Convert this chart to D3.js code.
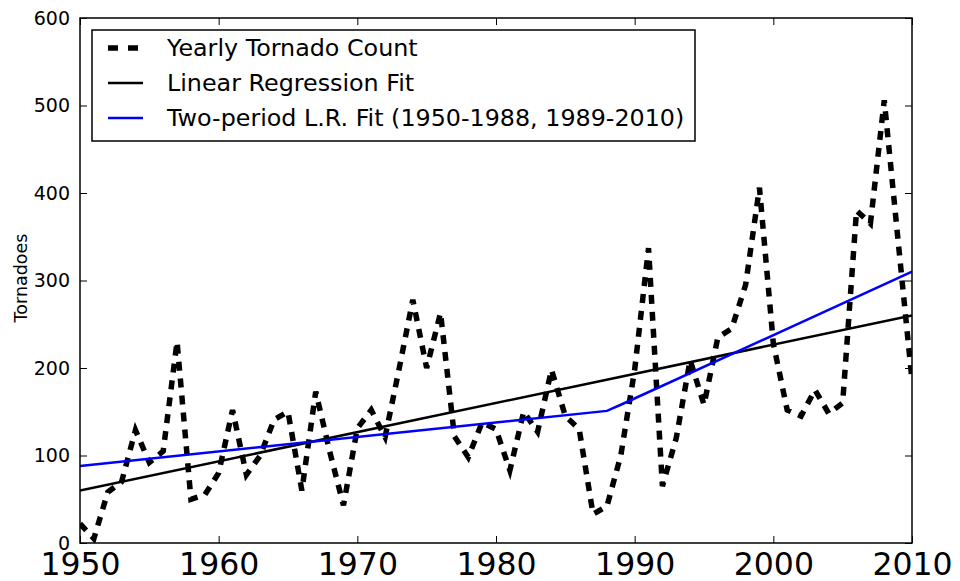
<!DOCTYPE html>
<html lang="en">

<head>
  <meta http-equiv="Content-Type" content="text/html; charset=utf-8">
  <title>Tornadoes</title>
  <style type="text/css">
    body { margin: 0; background: #fff; }
    text { font-family: "DejaVu Sans", sans-serif; fill: #000; }
    .frame { fill: none; stroke: #000; stroke-width: 1.5; }
  </style>
</head>

<body>

<script src="https://cdn.jsdelivr.net/npm/d3@7"></script>
<script>
  //----------------------------------------------------------------------------
  var years = [1950, 1951, 1952, 1953, 1954, 1955, 1956, 1957, 1958, 1959,
               1960, 1961, 1962, 1963, 1964, 1965, 1966, 1967, 1968, 1969,
               1970, 1971, 1972, 1973, 1974, 1975, 1976, 1977, 1978, 1979,
               1980, 1981, 1982, 1983, 1984, 1985, 1986, 1987, 1988, 1989,
               1990, 1991, 1992, 1993, 1994, 1995, 1996, 1997, 1998, 1999,
               2000, 2001, 2002, 2003, 2004, 2005, 2006, 2007, 2008, 2009,
               2010];

  var counts = [ 22,   5,  58,  70, 129,  92, 105, 230,  50,  55,
                 80, 152,  78, 100, 141, 150,  60, 173, 105,  43,
                131, 152, 121, 198, 278, 200, 263, 122,  98, 138,
                130,  83, 150, 127, 198, 145, 130,  33,  42, 100,
                198, 337,  65, 120, 209, 158, 235, 245, 295, 406,
                228, 152, 145, 175, 148, 160, 380, 365, 506, 345,
                186];

  // fitted lines, [year, value]
  var linearFit = [[1950, 60], [2010, 260]];
  var twoPeriodFit = [[1950, 88], [1988, 151], [1989, 158], [2010, 310]];

  var xTicks = [1950, 1960, 1970, 1980, 1990, 2000, 2010];
  var yTicks = [0, 100, 200, 300, 400, 500, 600];

  var legendLabels = ["Yearly Tornado Count", "Linear Regression Fit",
                      "Two-period L.R. Fit (1950-1988, 1989-2010)"];

  var width = 960;
  var height = 581;
  var plotLeft = 80, plotRight = 912, plotTop = 18, plotBottom = 543;

  var x = d3.scaleLinear().domain([1950, 2010]).range([plotLeft, plotRight]);
  var y = d3.scaleLinear().domain([0, 600]).range([plotBottom, plotTop]);

  var svg = d3.select("body")
    .append("svg")
      .attr("width", width)
      .attr("height", height);

  svg.append("clipPath")
      .attr("id", "plot")
    .append("rect")
      .attr("x", plotLeft)
      .attr("y", plotTop)
      .attr("width", plotRight - plotLeft)
      .attr("height", plotBottom - plotTop);

  var line = d3.line()
    .x(function(d) { return x(d[0]); })
    .y(function(d) { return y(d[1]); });

  var plot = svg.append("g").attr("clip-path", "url(#plot)");

  // yearly counts
  plot.append("path")
    .datum(years.map(function(yr, i) { return [yr, counts[i]]; }))
      .attr("d", line)
      .attr("fill", "none")
      .attr("stroke", "#000")
      .attr("stroke-width", 5.5)
      .attr("stroke-dasharray", "9,8");

  plot.append("path")
    .datum(linearFit)
      .attr("d", line)
      .attr("fill", "none")
      .attr("stroke", "#000")
      .attr("stroke-width", 2.5);

  plot.append("path")
    .datum(twoPeriodFit)
      .attr("d", line)
      .attr("fill", "none")
      .attr("stroke", "#0000ff")
      .attr("stroke-width", 2.5);

  // axes: ticks point inwards on all four sides
  var tickLen = 7;
  var axisBottom = svg.append("g")
    .attr("transform", "translate(0," + plotBottom + ")")
    .call(d3.axisBottom(x).tickValues(xTicks).tickFormat(d3.format("d"))
      .tickSizeInner(-tickLen).tickSizeOuter(0).tickPadding(9));
  axisBottom.selectAll("text").attr("font-size", 31.5).attr("dy", "0.72em");

  svg.append("g")
    .attr("transform", "translate(0," + plotTop + ")")
    .call(d3.axisTop(x).tickValues(xTicks).tickFormat("")
      .tickSizeInner(-tickLen).tickSizeOuter(0));

  var axisLeft = svg.append("g")
    .attr("transform", "translate(" + plotLeft + ",0)")
    .call(d3.axisLeft(y).tickValues(yTicks)
      .tickSizeInner(-tickLen).tickSizeOuter(0).tickPadding(10));
  axisLeft.selectAll("text").attr("font-size", 19);

  svg.append("g")
    .attr("transform", "translate(" + plotRight + ",0)")
    .call(d3.axisRight(y).tickValues(yTicks).tickFormat("")
      .tickSizeInner(-tickLen).tickSizeOuter(0));

  svg.selectAll(".domain").remove();
  svg.selectAll(".tick line").attr("stroke", "#000").attr("stroke-width", 1);
  svg.selectAll(".tick text").attr("font-family", "DejaVu Sans").attr("fill", "#000");

  svg.append("rect")
      .attr("class", "frame")
      .attr("x", plotLeft)
      .attr("y", plotTop)
      .attr("width", plotRight - plotLeft)
      .attr("height", plotBottom - plotTop);

  svg.append("text")
      .attr("transform", "translate(27,278) rotate(-90)")
      .attr("text-anchor", "middle")
      .attr("font-size", 17.5)
      .text("Tornadoes");

  // legend
  var legend = svg.append("g");
  legend.append("rect")
      .attr("class", "frame")
      .attr("fill", "#fff")
      .attr("x", 92)
      .attr("y", 30)
      .attr("width", 603)
      .attr("height", 111);

  var styles = [
    { stroke: "#000", width: 5.5, dash: "10,10" },
    { stroke: "#000", width: 2.5, dash: null },
    { stroke: "#0000ff", width: 2.5, dash: null }
  ];

  var rows = legend.selectAll(".row")
    .data(legendLabels)
    .enter().append("g")
      .attr("class", "row")
      .attr("transform", function(d, i) { return "translate(0," + (48 + i * 35) + ")"; });

  rows.append("line")
      .attr("x1", 108)
      .attr("x2", 143)
      .attr("stroke", function(d, i) { return styles[i].stroke; })
      .attr("stroke-width", function(d, i) { return styles[i].width; })
      .attr("stroke-dasharray", function(d, i) { return styles[i].dash; });

  rows.append("text")
      .attr("x", 167)
      .attr("dy", "0.35em")
      .attr("font-size", 23.8)
      .text(function(d) { return d; });

  //----------------------------------------------------------------------------
</script>

</body>
</html>
